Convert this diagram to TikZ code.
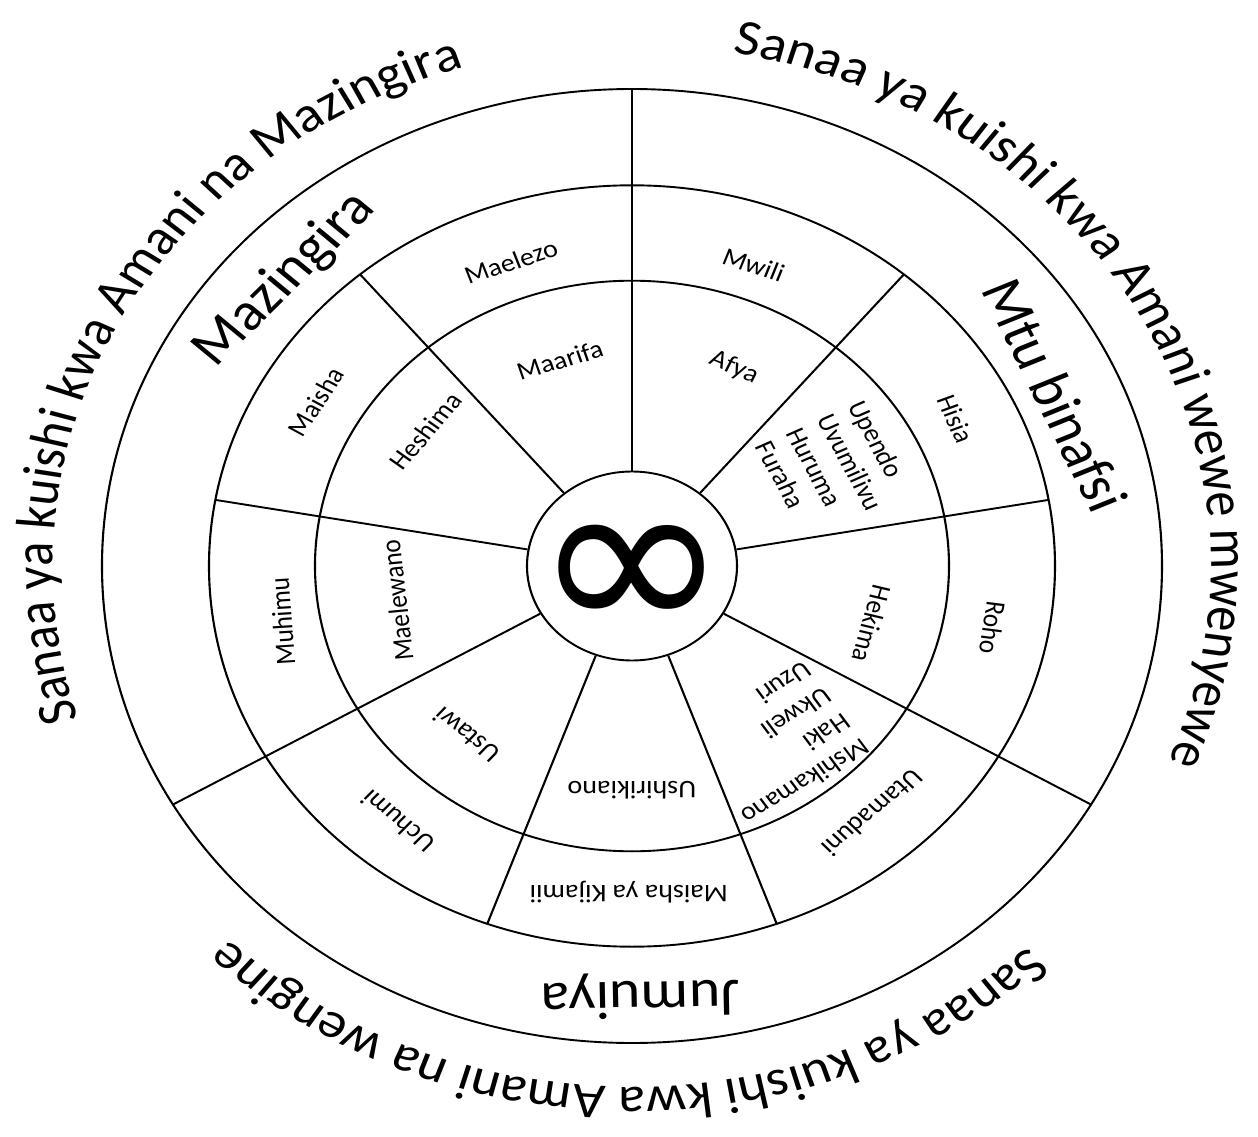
\documentclass[tikz,border=0pt]{standalone}
\usepackage{fontspec}
\setmainfont{Carlito}
\newfontfamily\symfont{DejaVu Sans}
\usetikzlibrary{decorations.text}

\begin{document}
\begin{tikzpicture}[
  every node/.style={inner sep=0pt},
  %% wheel styles
  ring/.style={line width=0.6pt},
  hubnode/.style={draw, ring, circle, minimum size=2.1cm},
  symbol/.style={font=\symfont\fontsize{67}{67}\selectfont, yscale=1.06},
  cell/.style={font=\fontsize{8}{9.2}\selectfont},
  block/.style={font=\fontsize{8}{9.8}\selectfont, align=left},
  sector/.style={font=\fontsize{17}{20}\selectfont},
  motto/.style={decorate, decoration={text along path, text align=center,
    text={|\fontsize{15.9}{19}\selectfont|#1}}},
]
\fill[white] (-6.32,-5.71) rectangle (6.26,5.66);
\useasboundingbox (-6.32,-5.71) rectangle (6.26,5.66);

\begin{scope}[transform canvas={yscale=0.9}]
%% =========================================================
%% RINGS
%% =========================================================
\node[hubnode] (hub) at (0,0) {};
\node[symbol, yshift=-1.5mm] (infinity) at (hub.center) {∞};
\draw[ring] (0,0) circle[radius=3.17];
\draw[ring] (0,0) circle[radius=4.23];
\draw[ring] (0,0) circle[radius=5.30];

%% long dividers (three outer sectors)
\draw[ring] (hub.90)   -- (90:5.30);
\draw[ring] (hub.-30)  -- (-30:5.30);
\draw[ring] (hub.-150) -- (-150:5.30);

%% short dividers (nine cells)
\draw[ring] (hub.50)   -- (50:4.23);
\draw[ring] (hub.10)   -- (10:4.23);
\draw[ring] (hub.-70)  -- (-70:4.23);
\draw[ring] (hub.-110) -- (-110:4.23);
\draw[ring] (hub.170)  -- (170:4.23);
\draw[ring] (hub.130)  -- (130:4.23);

%% =========================================================
%% INNER RING
%% =========================================================
\node[cell, rotate=17.5]   (maarifa)     at (107.5:2.40) {Maarifa};
\node[cell, rotate=-24.8]  (afya)        at (65.2:2.43)  {Afya};
\node[block, rotate=-64]   (upendo)      at (27.9:2.30)
  {Upendo\\Uvumilivu\\Huruma\\Furaha};
\node[cell, rotate=-104.8] (hekima)      at (-15:2.48)   {Hekima};
\node[block, rotate=-146]  (mshikamano)  at (-53.7:2.45)
  {Mshikamano\\Haki\\Ukweli\\Uzuri};
\node[cell, rotate=-180]   (ushirikiano) at (-90:2.49)   {Ushirikiano};
\node[cell, rotate=-221]   (ustawi)      at (-131.3:2.50) {Ustawi};
\node[cell, rotate=96]     (maelewano)   at (-170.8:2.38) {Maelewano};
\node[cell, rotate=52]     (heshima)     at (144:2.55)   {Heshima};

%% =========================================================
%% MIDDLE RING
%% =========================================================
\node[cell, rotate=19.7]   (maelezo)   at (109.7:3.59) {Maelezo};
\node[cell, rotate=-20]    (mwili)     at (70:3.56)    {Mwili};
\node[cell, rotate=-68]    (hisia)     at (26.8:3.63)  {Hisia};
\node[cell, rotate=-98]    (roho)      at (-10.8:3.67) {Roho};
\node[cell, rotate=-137]   (utamaduni) at (-48.7:3.65) {Utamaduni};
\node[cell, rotate=-180]   (kijamii)   at (-90.5:3.62) {Maisha ya Kijamii};
\node[cell, rotate=-222]   (uchumi)    at (-129.5:3.68) {Uchumi};
\node[cell, rotate=94]     (muhimu)    at (-170:3.55)  {Muhimu};
\node[cell, rotate=59]     (maisha)    at (150:3.65)   {Maisha};

%% =========================================================
%% OUTER RING
%% =========================================================
\node[sector, rotate=47.5]  (mazingira) at (137.5:4.71) {Mazingira};
\node[sector, rotate=-65.8] (binafsi)   at (24.2:4.64)  {Mtu binafsi};
\node[sector, rotate=-179]  (jumuiya)   at (-89:4.78)   {Jumuiya};

%% curved mottos outside the wheel
\path[motto={Sanaa ya kuishi kwa Amani wewe mwenyewe}]
  (104:5.79) arc[start angle=104, end angle=-46, radius=5.79];
\path[motto={Sanaa ya kuishi kwa Amani na wengine}]
  (-15.5:5.79) arc[start angle=-15.5, end angle=-165.5, radius=5.79];
\path[motto={Sanaa ya kuishi kwa Amani na Mazingira}]
  (227:5.79) arc[start angle=227, end angle=77, radius=5.79];
\end{scope}

\end{tikzpicture}
\end{document}
